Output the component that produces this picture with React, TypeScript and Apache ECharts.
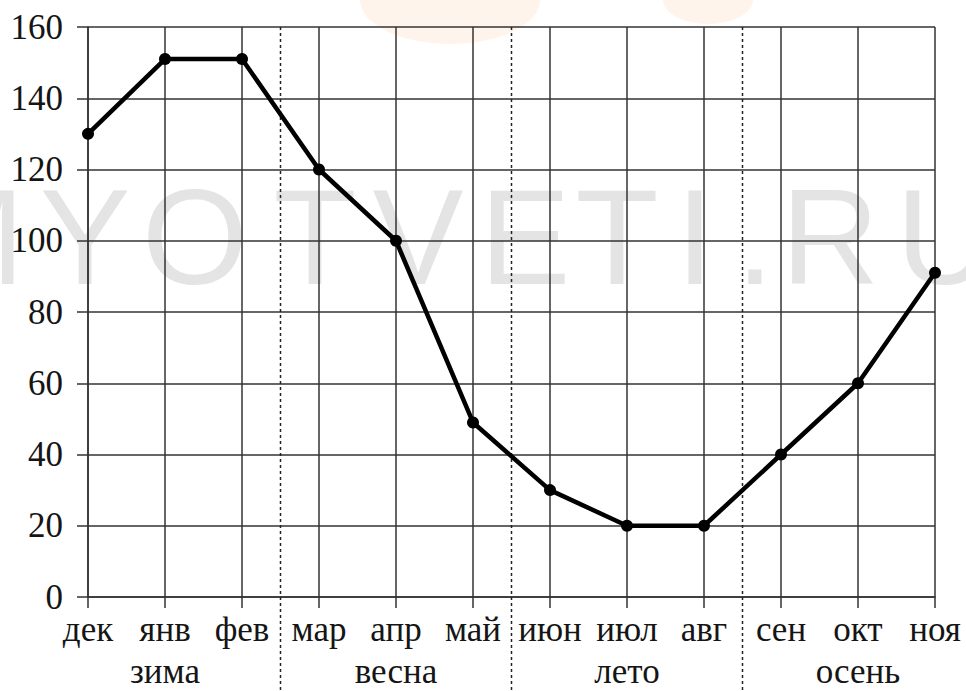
import React, { useEffect, useRef } from "react";
import * as echarts from "echarts";

const months = ["дек", "янв", "фев", "мар", "апр", "май", "июн", "июл", "авг", "сен", "окт", "ноя"];
const values = [130, 151, 151, 120, 100, 49, 30, 20, 20, 40, 60, 91];
const seasons = ["зима", "весна", "лето", "осень"];
const yMin = 0;
const yMax = 160;
const yStep = 20;

const SERIF = "Liberation Serif";

export default function App() {
  const ref = useRef<HTMLDivElement>(null);

  useEffect(() => {
    if (!ref.current) return;
    const chart = echarts.init(ref.current, undefined, { renderer: "svg" });
    const gridColor = "#333333";
    const labelColor = "#151515";

    chart.setOption({
      animation: false,
      backgroundColor: "#ffffff",
      grid: { left: 88, right: 31, top: 27, bottom: 94, containLabel: false },
      xAxis: [
        {
          type: "category",
          data: months,
          boundaryGap: false,
          position: "bottom",
          z: 2,
          axisLine: { show: true, lineStyle: { color: gridColor, width: 1.5 } },
          axisTick: { show: true, length: 11, lineStyle: { color: gridColor, width: 1.5 } },
          splitLine: { show: true, lineStyle: { color: gridColor, width: 1.5 } },
          axisLabel: { show: true, fontFamily: SERIF, fontSize: 35, lineHeight: 36, color: labelColor, margin: 14, interval: 0 },
        },
        {
          type: "category",
          data: months,
          boundaryGap: false,
          position: "bottom",
          offset: 44,
          axisLine: { show: false },
          axisTick: { show: false },
          splitLine: { show: false },
          axisLabel: {
            show: true,
            interval: 0,
            fontFamily: SERIF,
            fontSize: 35,
            lineHeight: 34,
            color: labelColor,
            margin: 13,
            formatter: (_v: string, i: number) => (i % 3 === 1 ? seasons[(i - 1) / 3] : ""),
          },
        },
      ],
      yAxis: {
        type: "value",
        min: yMin,
        max: yMax,
        interval: yStep,
        z: 2,
        axisLine: { show: true, lineStyle: { color: gridColor, width: 1.5 } },
        axisTick: { show: true, length: 11, lineStyle: { color: gridColor, width: 1.5 } },
        splitLine: { show: true, lineStyle: { color: gridColor, width: 1.5 } },
        axisLabel: { fontFamily: SERIF, fontSize: 35, color: labelColor, margin: 25 },
      },
      series: [
        {
          type: "line",
          data: values,
          xAxisIndex: 0,
          symbol: "circle",
          symbolSize: 12,
          lineStyle: { color: "#000", width: 4.5 },
          itemStyle: { color: "#000" },
          z: 5,
        },
      ],
    });

    // dotted season separators, placed through the axis scales
    const yTop = chart.convertToPixel({ yAxisIndex: 0 }, yMax) as number;
    const sepLines: any[] = [];
    for (let k = 1; k < seasons.length; k++) {
      const a = chart.convertToPixel({ xAxisIndex: 0 }, months[3 * k - 1]) as number;
      const b = chart.convertToPixel({ xAxisIndex: 0 }, months[3 * k]) as number;
      const x = (a + b) / 2;
      sepLines.push({
        type: "line",
        shape: { x1: x, y1: yTop, x2: x, y2: 691 },
        style: { stroke: "#222", lineWidth: 1.5, lineDash: [3, 3] },
        z: 3,
        silent: true,
      });
    }

    const wmColor = "#e4e4e4";
    const wmLetters: [string, number][] = [
      ["M", -32], ["Y", 85], ["O", 195], ["T", 315], ["V", 418], ["E", 525],
      ["T", 617], ["I", 695], [".", 755], ["R", 830], ["U", 945],
    ];
    const watermark = wmLetters.map(([ch, x]) => ({
      type: "text",
      x,
      y: 237,
      z: -100,
      silent: true,
      style: {
        text: ch,
        fill: wmColor,
        fontFamily: "Liberation Sans",
        fontSize: 136,
        align: "center",
        verticalAlign: "middle",
      },
    }));
    const orange = [
      { type: "ellipse", shape: { cx: 450, cy: 0, rx: 90, ry: 44 }, style: { fill: "#fef4ec" }, z: -101, silent: true },
      { type: "ellipse", shape: { cx: 708, cy: 0, rx: 45, ry: 24 }, style: { fill: "#fef4ec" }, z: -101, silent: true },
    ];

    chart.setOption({ graphic: [...orange, ...watermark, ...sepLines] });

    return () => chart.dispose();
  }, []);

  return <div ref={ref} style={{ position: "absolute", left: 0, top: 0, width: 966, height: 691 }} />;
}
